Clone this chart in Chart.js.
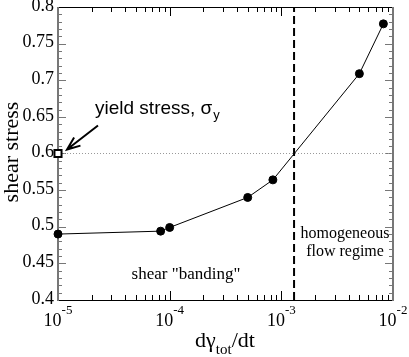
<!DOCTYPE html>
<html>
<head>
<meta charset="utf-8">
<script src="https://cdn.jsdelivr.net/npm/chart.js@4/dist/chart.umd.min.js"></script>
<style>html,body{margin:0;padding:0;background:#fff}</style>
</head>
<body>
<canvas id="stressChart" width="409" height="357"></canvas>
<script>
// data
const rateValues = [1e-5, 8.3e-5, 1e-4, 5e-4, 8.4e-4, 5e-3, 8.2e-3];
const stressValues = [0.49, 0.494, 0.499, 0.54, 0.564, 0.709, 0.777];
const yieldStress = 0.6;
const crossoverRate = 1.3e-3;
const xRange = [1e-5, 1e-2];
const yRange = [0.4, 0.8];
const xTickExponents = [-5, -4, -3, -2];
const yTickValues = [0.4, 0.45, 0.5, 0.55, 0.6, 0.65, 0.7, 0.75, 0.8];
const yTickLabels = ['0.4', '0.45', '0.5', '0.55', '0.6', '0.65', '0.7', '0.75', '0.8'];

const SERIF = '"Liberation Serif", "DejaVu Serif", serif';
const SANS = '"Liberation Sans", Arial, sans-serif';

const framePlugin = {
    id: 'frame',
    beforeDatasetsDraw(chart) {
        const { ctx, chartArea: a, scales: { x, y } } = chart;
        ctx.save();
        ctx.lineWidth = 1;

        // x ticks (inward, top and bottom)
        ctx.strokeStyle = '#000';
        ctx.beginPath();
        for (let e = -5; e <= -2; e++) {
            for (let m = 1; m <= 9; m++) {
                const v = m * Math.pow(10, e);
                if (v > xRange[1] * 1.0001) break;
                const px = Math.round(x.getPixelForValue(v)) + 0.5;
                const len = m === 1 ? 9 : 5;
                ctx.moveTo(px, a.bottom); ctx.lineTo(px, a.bottom - len);
                ctx.moveTo(px, a.top); ctx.lineTo(px, a.top + len);
            }
        }
        ctx.stroke();

        // y ticks (inward, left and right)
        ctx.strokeStyle = '#777';
        ctx.beginPath();
        for (let i = 0; i <= 40; i++) {
            const v = yRange[0] + i * 0.01;
            const py = Math.round(y.getPixelForValue(v)) + 0.5;
            const len = i % 5 === 0 ? 8 : 4;
            ctx.moveTo(a.left, py); ctx.lineTo(a.left + len, py);
            ctx.moveTo(a.right, py); ctx.lineTo(a.right - len, py);
        }
        ctx.stroke();

        // frame
        ctx.strokeStyle = '#000';
        ctx.beginPath();
        ctx.moveTo(a.left, a.bottom + 0.5); ctx.lineTo(a.right, a.bottom + 0.5);
        ctx.moveTo(a.left, a.top + 0.5); ctx.lineTo(a.right, a.top + 0.5);
        ctx.stroke();
        ctx.strokeStyle = '#777';
        ctx.lineWidth = 2;
        ctx.beginPath();
        ctx.moveTo(a.left, a.top); ctx.lineTo(a.left, a.bottom + 1);
        ctx.moveTo(a.right, a.top); ctx.lineTo(a.right, a.bottom + 1);
        ctx.stroke();
        ctx.restore();
    },
    afterDraw(chart) {
        const { ctx, chartArea: a, scales: { x, y } } = chart;
        ctx.save();
        ctx.fillStyle = '#000';

        // y tick labels
        ctx.font = '18px ' + SERIF;
        ctx.textAlign = 'right';
        ctx.textBaseline = 'middle';
        yTickValues.forEach((v, i) => {
            ctx.fillText(yTickLabels[i], a.left - 4, y.getPixelForValue(v) - 1);
        });

        // x tick labels: 10 with superscript exponent
        ctx.textBaseline = 'alphabetic';
        ctx.textAlign = 'left';
        xTickExponents.forEach(e => {
            const px = x.getPixelForValue(Math.pow(10, e));
            ctx.font = '18px ' + SERIF;
            const w1 = ctx.measureText('10').width;
            ctx.font = '13px ' + SERIF;
            const sup = String(e).replace('-', '-');
            const w2 = ctx.measureText(sup).width;
            const x0 = px - (w1 + w2) / 2;
            ctx.font = '18px ' + SERIF;
            ctx.fillText('10', x0, a.bottom + 26);
            ctx.font = '13px ' + SERIF;
            ctx.fillText(sup, x0 + w1, a.bottom + 14);
        });

        // x axis title: dγ_tot/dt
        ctx.font = '22px ' + SERIF;
        const wa = ctx.measureText('d\u03B3').width;
        const wc = ctx.measureText('/dt').width;
        ctx.font = '15px ' + SERIF;
        const wb = ctx.measureText('tot').width;
        let tx = 225 - (wa + wb + wc) / 2;
        ctx.font = '22px ' + SERIF;
        ctx.fillText('d\u03B3', tx, 347);
        ctx.font = '15px ' + SERIF;
        ctx.fillText('tot', tx + wa, 354);
        ctx.font = '22px ' + SERIF;
        ctx.fillText('/dt', tx + wa + wb, 347);

        // y axis title
        ctx.save();
        ctx.translate(18, 152);
        ctx.rotate(-Math.PI / 2);
        ctx.textAlign = 'center';
        ctx.font = '22px ' + SERIF;
        ctx.fillText('shear stress', 0, 0);
        ctx.restore();

        // region labels
        ctx.textAlign = 'center';
        ctx.font = '17px ' + SERIF;
        ctx.fillText('shear "banding"', 186, 279);
        ctx.font = '16px ' + SERIF;
        ctx.fillText('homogeneous', 345, 238);
        ctx.fillText('flow regime', 345, 256);

        // yield stress label and arrow
        ctx.textAlign = 'left';
        ctx.font = '19px ' + SANS;
        ctx.fillText('yield stress, \u03C3', 95, 114);
        const ws = ctx.measureText('yield stress, \u03C3').width;
        ctx.font = '13px ' + SANS;
        ctx.fillText('y', 95 + ws + 1, 119);

        const sx = x.getPixelForValue(xRange[0]);
        const sy = y.getPixelForValue(yieldStress);
        const tipX = sx + 9, tipY = sy - 4;
        const tailX = tipX + 31, tailY = tipY - 24;
        ctx.strokeStyle = '#000';
        ctx.lineWidth = 2;
        ctx.beginPath();
        ctx.moveTo(tailX, tailY); ctx.lineTo(tipX, tipY);
        const ang = Math.atan2(tipY - tailY, tipX - tailX);
        const hl = 14, spread = 0.38;
        ctx.moveTo(tipX - hl * Math.cos(ang - spread), tipY - hl * Math.sin(ang - spread));
        ctx.lineTo(tipX, tipY);
        ctx.lineTo(tipX - hl * Math.cos(ang + spread), tipY - hl * Math.sin(ang + spread));
        ctx.stroke();
        ctx.restore();
    }
};

const ctx = document.getElementById('stressChart').getContext('2d');
new Chart(ctx, {
    type: 'scatter',
    data: {
        datasets: [
            {
                label: 'shear stress',
                data: rateValues.map((r, i) => ({ x: r, y: stressValues[i] })),
                showLine: true,
                borderColor: '#000',
                borderWidth: 1,
                backgroundColor: '#000',
                pointRadius: 4,
                pointBorderWidth: 1,
                pointBorderColor: '#000',
                pointBackgroundColor: '#000',
                clip: false,
                order: 1
            },
            {
                label: 'yield stress',
                data: [{ x: xRange[0], y: yieldStress }],
                pointStyle: 'rect',
                pointRadius: 5,
                pointBorderWidth: 2,
                pointBorderColor: '#000',
                pointBackgroundColor: '#fff',
                clip: false,
                order: 0
            },
            {
                label: 'yield line',
                data: [{ x: xRange[0], y: yieldStress }, { x: xRange[1], y: yieldStress }],
                showLine: true,
                borderColor: '#999',
                borderWidth: 1,
                borderDash: [1, 2],
                pointRadius: 0,
                order: 3
            },
            {
                label: 'crossover',
                data: [{ x: crossoverRate, y: yRange[0] }, { x: crossoverRate, y: yRange[1] }],
                showLine: true,
                borderColor: '#000',
                borderWidth: 2,
                borderDash: [8, 4],
                pointRadius: 0,
                order: 2
            }
        ]
    },
    options: {
        responsive: false,
        devicePixelRatio: 1,
        animation: false,
        layout: { padding: { left: 58, right: 16, top: 5, bottom: 57 } },
        plugins: { legend: { display: false }, tooltip: { enabled: false } },
        scales: {
            x: { type: 'logarithmic', min: xRange[0], max: xRange[1], display: false },
            y: { type: 'linear', min: yRange[0], max: yRange[1], display: false }
        }
    },
    plugins: [framePlugin]
});
</script>
</body>
</html>
